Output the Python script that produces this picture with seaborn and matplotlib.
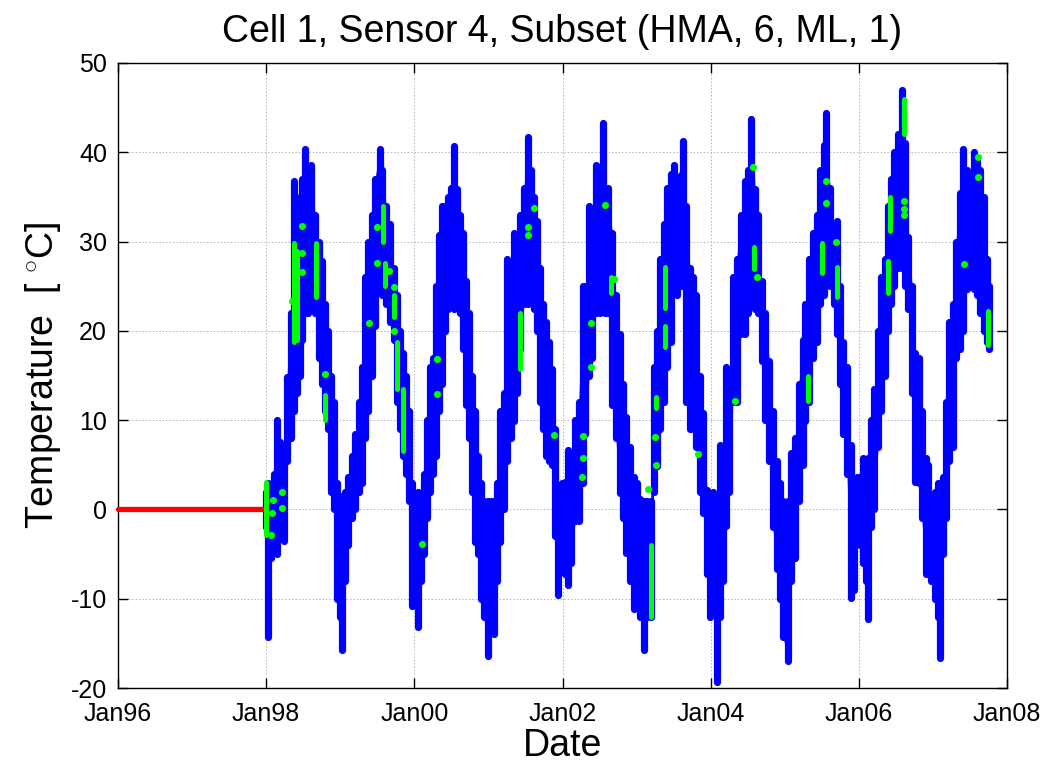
import numpy as np
import pandas as pd
import matplotlib
matplotlib.use("Agg")
import matplotlib.pyplot as plt
import seaborn as sns

# ---- hourly sensor readings summarised as (time, daily-band low, daily-band high) ----
blue_t = [
    1998.00, 1998.03, 1998.07, 1998.11, 1998.15, 1998.19, 1998.24, 1998.28, 1998.33, 1998.37,
    1998.41, 1998.45, 1998.48, 1998.52, 1998.57, 1998.61, 1998.66, 1998.71, 1998.75, 1998.80,
    1998.84, 1998.88, 1998.92, 1998.96, 1999.00, 1999.03, 1999.07, 1999.11, 1999.16, 1999.20,
    1999.25, 1999.29, 1999.33, 1999.38, 1999.43, 1999.47, 1999.53, 1999.57, 1999.62, 1999.67,
    1999.72, 1999.77, 1999.81, 1999.85, 1999.89, 1999.93, 1999.97, 2000.02, 2000.05, 2000.09,
    2000.13, 2000.17, 2000.21, 2000.25, 2000.29, 2000.33, 2000.38, 2000.42, 2000.46, 2000.50,
    2000.54, 2000.58, 2000.62, 2000.66, 2000.70, 2000.74, 2000.78, 2000.82, 2000.86, 2000.90,
    2000.94, 2000.99, 2001.03, 2001.08, 2001.12, 2001.16, 2001.21, 2001.25, 2001.30, 2001.34,
    2001.39, 2001.43, 2001.48, 2001.53, 2001.57, 2001.62, 2001.66, 2001.70, 2001.74, 2001.78,
    2001.82, 2001.86, 2001.90, 2001.94, 2001.99, 2002.03, 2002.08, 2002.12, 2002.17, 2002.22,
    2002.27, 2002.31, 2002.36, 2002.40, 2002.45, 2002.50, 2002.54, 2002.58, 2002.62, 2002.67,
    2002.72, 2002.77, 2002.82, 2002.86, 2002.91, 2002.96, 2003.00, 2003.05, 2003.10, 2003.14,
    2003.19, 2003.23, 2003.28, 2003.32, 2003.37, 2003.41, 2003.46, 2003.51, 2003.55, 2003.60,
    2003.63, 2003.67, 2003.72, 2003.76, 2003.80, 2003.85, 2003.90, 2003.95, 2003.99, 2004.03,
    2004.08, 2004.12, 2004.16, 2004.21, 2004.25, 2004.30, 2004.35, 2004.41, 2004.46, 2004.51,
    2004.55, 2004.60, 2004.64, 2004.69, 2004.74, 2004.79, 2004.84, 2004.89, 2004.94, 2004.98,
    2005.04, 2005.09, 2005.14, 2005.19, 2005.24, 2005.28, 2005.33, 2005.38, 2005.43, 2005.48,
    2005.53, 2005.56, 2005.61, 2005.66, 2005.70, 2005.75, 2005.79, 2005.84, 2005.89, 2005.94,
    2005.98, 2006.02, 2006.06, 2006.10, 2006.13, 2006.17, 2006.21, 2006.26, 2006.30, 2006.35,
    2006.39, 2006.44, 2006.48, 2006.53, 2006.58, 2006.62, 2006.67, 2006.72, 2006.76, 2006.81,
    2006.85, 2006.90, 2006.94, 2006.98, 2007.03, 2007.07, 2007.10, 2007.14, 2007.18, 2007.22,
    2007.27, 2007.31, 2007.36, 2007.41, 2007.46, 2007.50, 2007.55, 2007.59, 2007.64, 2007.69,
    2007.73, 2007.76,
]
blue_lo = [
    -2.0, -14.3, -5.4, -4.0, -5.0, -3.0, -3.5, 5.4, 8.0, 11.0,
    13.0, 15.0, 19.0, 22.0, 22.0, 22.4, 22.0, 17.0, 14.0, 11.0,
    9.0, 2.0, 0.0, -10.0, -12.0, -15.7, -8.0, -4.0, -1.0, 0.0,
    2.0, 3.0, 8.0, 11.0, 15.0, 20.6, 24.6, 24.0, 23.0, 21.0,
    19.0, 12.0, 9.0, 6.0, 4.0, 1.0, -10.8, -8.0, -13.2, -8.0,
    -5.0, -1.0, 2.0, 4.0, 6.0, 11.0, 14.0, 20.0, 22.4, 23.0,
    22.4, 23.0, 22.0, 18.0, 11.7, 8.0, 2.0, -3.6, -5.0, -10.0,
    -12.0, -16.4, -12.0, -13.9, -8.0, -3.6, 0.0, 5.4, 8.0, 9.9,
    13.0, 18.0, 23.0, 23.0, 24.0, 22.4, 20.0, 12.0, 9.0, 6.0,
    5.4, 5.0, -3.0, -9.6, -7.0, -7.2, -8.5, -6.0, -1.3, -1.3,
    3.0, 8.5, 15.0, 17.0, 22.0, 22.0, 24.0, 22.0, 22.0, 11.7,
    8.0, 1.8, -1.0, -4.9, -8.0, -11.2, -9.5, -12.0, -15.7, -12.0,
    -12.1, 2.0, 4.9, 9.0, 12.0, 16.0, 18.8, 24.7, 24.0, 25.0,
    25.0, 12.0, 9.0, 9.0, 7.0, 2.0, -0.4, -7.2, -12.1, -10.0,
    -19.3, -12.0, -8.0, -1.8, 2.0, 12.0, 12.0, 19.7, 19.7, 22.0,
    24.0, 22.4, 22.0, 16.6, 10.0, 5.4, -2.0, -6.7, -10.0, -14.3,
    -17.0, -8.0, -5.4, 1.0, 5.0, 9.9, 12.0, 17.0, 18.8, 23.0,
    24.0, 26.0, 25.0, 23.0, 19.7, 14.0, 8.5, 4.0, -9.9, -9.0,
    -2.0, -4.0, -6.0, -8.0, -12.3, -2.0, 0.0, 7.0, 11.0, 15.0,
    20.0, 23.0, 25.0, 27.0, 27.0, 25.0, 22.4, 13.0, 3.1, 3.0,
    -1.0, -7.2, -7.0, -8.0, -10.0, -12.0, -16.6, -5.0, -1.0, 5.4,
    7.0, 17.0, 18.0, 20.0, 24.7, 25.0, 24.7, 24.0, 22.0, 20.0,
    18.8, 18.0,
]
blue_hi = [
    2.0, 3.0, 2.7, 4.0, 10.0, 7.6, 6.0, 14.8, 22.0, 36.8,
    33.0, 35.0, 37.0, 40.4, 37.0, 38.6, 33.0, 30.0, 27.8, 23.0,
    20.0, 15.0, 12.0, 3.0, 1.5, 0.0, 2.0, 3.6, 6.0, 8.5,
    12.0, 16.0, 26.0, 30.0, 33.0, 37.0, 40.4, 38.0, 34.0, 32.0,
    27.0, 24.0, 20.0, 17.5, 15.0, 11.0, 3.0, 1.8, 2.0, 1.3,
    4.0, 10.0, 16.0, 17.0, 25.0, 30.7, 34.0, 34.0, 35.0, 36.0,
    40.7, 35.9, 33.0, 31.0, 25.6, 22.0, 15.0, 11.0, 6.0, 3.0,
    1.0, 1.0, 0.9, 1.0, 3.0, 11.0, 13.0, 28.0, 26.0, 31.0,
    29.0, 33.0, 36.0, 41.7, 38.0, 35.0, 32.3, 27.0, 23.0, 21.0,
    18.8, 15.7, 9.0, 2.7, 3.0, 3.1, 6.7, 4.0, 10.0, 12.0,
    25.0, 25.0, 34.0, 30.0, 38.6, 36.0, 43.3, 35.0, 36.0, 31.0,
    24.0, 19.7, 14.0, 10.3, 7.0, 3.6, 3.0, 1.2, 0.9, 0.9,
    1.0, 16.0, 20.0, 28.0, 32.0, 36.0, 37.6, 38.6, 36.0, 37.5,
    41.3, 34.0, 27.0, 26.0, 24.0, 15.0, 10.8, 2.2, 1.0, 2.0,
    0.5, 7.2, 5.0, 16.0, 12.0, 26.0, 28.0, 33.0, 36.8, 38.0,
    43.7, 35.9, 33.0, 25.6, 22.0, 16.6, 11.0, 5.4, 3.0, 0.9,
    1.0, 6.3, 8.0, 14.0, 19.0, 23.0, 28.0, 31.0, 33.0, 38.0,
    40.8, 44.4, 36.0, 32.0, 32.3, 25.0, 18.8, 16.0, 7.2, 3.0,
    3.6, 3.6, 5.8, 5.0, 5.8, 10.0, 13.5, 20.0, 26.0, 28.0,
    34.0, 37.0, 40.0, 42.0, 47.0, 41.0, 30.5, 25.0, 17.5, 17.0,
    11.0, 5.8, 5.0, 1.3, 2.0, 3.0, 1.3, 3.6, 12.0, 21.0,
    23.0, 30.0, 35.4, 40.4, 38.0, 37.0, 40.0, 39.0, 38.0, 35.0,
    28.0, 25.0,
]

# ---- flagged readings: short runs (time, bottom, top) and isolated points ----
green_run_t = [1998.00, 1998.37, 1998.42, 1998.67, 1998.80, 1999.58, 1999.61, 1999.73,
               1999.77, 1999.85, 2001.42, 2002.65, 2003.19, 2003.26, 2003.39, 2003.39,
               2004.58, 2005.32, 2005.50, 2005.70, 2006.39, 2006.42, 2006.61, 2007.75]
green_run_lo = [-2.9, 18.8, 19.0, 23.8, 10.0, 30.0, 25.0, 21.5,
                13.5, 6.5, 15.7, 24.2, -12.1, 11.4, 22.6, 18.2,
                26.9, 12.1, 26.5, 23.8, 24.2, 31.2, 42.0, 18.4]
green_run_hi = [3.1, 29.8, 29.0, 29.8, 12.8, 34.0, 27.6, 24.0,
                18.8, 13.5, 22.0, 26.0, -4.0, 12.6, 27.1, 20.5,
                29.4, 15.0, 29.8, 27.1, 27.8, 35.0, 46.0, 22.2]
green_pt_t = [1998.09, 1998.08, 1998.07, 1998.21, 1998.22, 1998.35, 1998.48, 1998.48, 1998.48,
              1998.80, 1999.39, 1999.49, 1999.49, 1999.66, 1999.72, 1999.72, 2000.11, 2000.31,
              2000.31, 2001.53, 2001.53, 2001.61, 2001.89, 2002.26, 2002.28, 2002.28, 2002.38,
              2002.38, 2002.58, 2002.70, 2003.15, 2003.25, 2003.26, 2003.83, 2004.33, 2004.57,
              2004.63, 2005.56, 2005.56, 2005.69, 2006.61, 2006.61, 2006.61, 2007.42, 2007.61,
              2007.61]
green_pt_v = [1.1, -0.4, -2.9, 1.9, 0.2, 23.3, 31.8, 28.7, 26.6,
              15.2, 20.9, 31.6, 27.6, 26.7, 24.9, 20.0, -3.9, 16.8,
              12.9, 31.6, 30.7, 33.8, 8.3, 3.6, 5.8, 8.2, 20.9,
              15.9, 34.1, 25.8, 2.3, 8.1, 5.0, 6.2, 12.2, 38.3,
              26.0, 36.8, 34.3, 30.0, 34.5, 33.6, 33.0, 27.5, 39.5,
              37.2]

# ---- period before installation, logged as zero ----
red_t = [1996.0, 1998.0]
red_v = [0.0, 0.0]

x_ticks = [1996, 1998, 2000, 2002, 2004, 2006, 2008]
x_labels = ["Jan96", "Jan98", "Jan00", "Jan02", "Jan04", "Jan06", "Jan08"]
y_ticks = [-20, -10, 0, 10, 20, 30, 40, 50]

BLUE, GREEN, RED = "#0000FF", "#00FF00", "#FF0000"

sns.set_style("ticks")
plt.rcParams["font.family"] = ["Liberation Sans", "DejaVu Sans"]
plt.rcParams["mathtext.fontset"] = "custom"
plt.rcParams["mathtext.rm"] = "Liberation Sans"
plt.rcParams["lines.solid_capstyle"] = "round"
plt.rcParams["axes.unicode_minus"] = False
for key in ("text.color", "axes.labelcolor", "xtick.color", "ytick.color"):
    plt.rcParams[key] = "black"

fig = plt.figure(figsize=(10.52, 7.69), dpi=100)
ax = fig.add_axes([118 / 1052, 1 - 688 / 769, 889 / 1052, 625 / 769])


def segments(t, lo, hi):
    n = len(t)
    return pd.DataFrame({
        "t": np.repeat(np.asarray(t, float), 2),
        "v": np.column_stack([lo, hi]).ravel(),
        "unit": np.repeat(np.arange(n), 2),
    })


# measured temperature band
ax.fill_between(blue_t, blue_lo, blue_hi, color=BLUE, lw=0, zorder=2)
sns.lineplot(data=segments(blue_t, blue_lo, blue_hi), x="t", y="v", units="unit",
             estimator=None, sort=False, color=BLUE, lw=5.2, ax=ax, legend=False, zorder=3)

# zero-filled lead-in
sns.lineplot(x=red_t, y=red_v, color=RED, lw=3.8, ax=ax, legend=False, zorder=4, clip_on=False)

# flagged readings
sns.lineplot(data=segments(green_run_t, green_run_lo, green_run_hi), x="t", y="v", units="unit",
             estimator=None, sort=False, color=GREEN, lw=3.6, ax=ax, legend=False, zorder=5)
sns.scatterplot(x=green_pt_t, y=green_pt_v, color=GREEN, s=26, linewidth=0, ax=ax,
                legend=False, zorder=6)

ax.set_xlim(1996, 2008)
ax.set_ylim(-20, 50)
ax.set_xticks(x_ticks)
ax.set_xticklabels(x_labels)
ax.set_yticks(y_ticks)
ax.grid(True, ls=(0, (1.5, 2)), color="#b4b4b4", lw=0.7, zorder=0)
ax.set_axisbelow(True)
ax.tick_params(direction="in", length=7, width=1, top=True, right=True,
               labelsize=18, colors="black")
ax.tick_params(axis="x", pad=10)
ax.tick_params(axis="y", pad=8)
for s in ax.spines.values():
    s.set_visible(True)
    s.set_color("black")
    s.set_linewidth(1.0)

ax.set_title("Cell 1, Sensor 4, Subset (HMA, 6, ML, 1)", fontsize=27, pad=15)
ax.set_xlabel("Date", fontsize=27)
ax.xaxis.label.set_va("center")
ax.xaxis.set_label_coords(0.5, -0.092)
ax.set_ylabel(r"Temperature  [ $^{\circ}$C]", fontsize=27)
ax.yaxis.set_label_coords(-0.062, 0.5)

fig.savefig("out.png", dpi=100)
